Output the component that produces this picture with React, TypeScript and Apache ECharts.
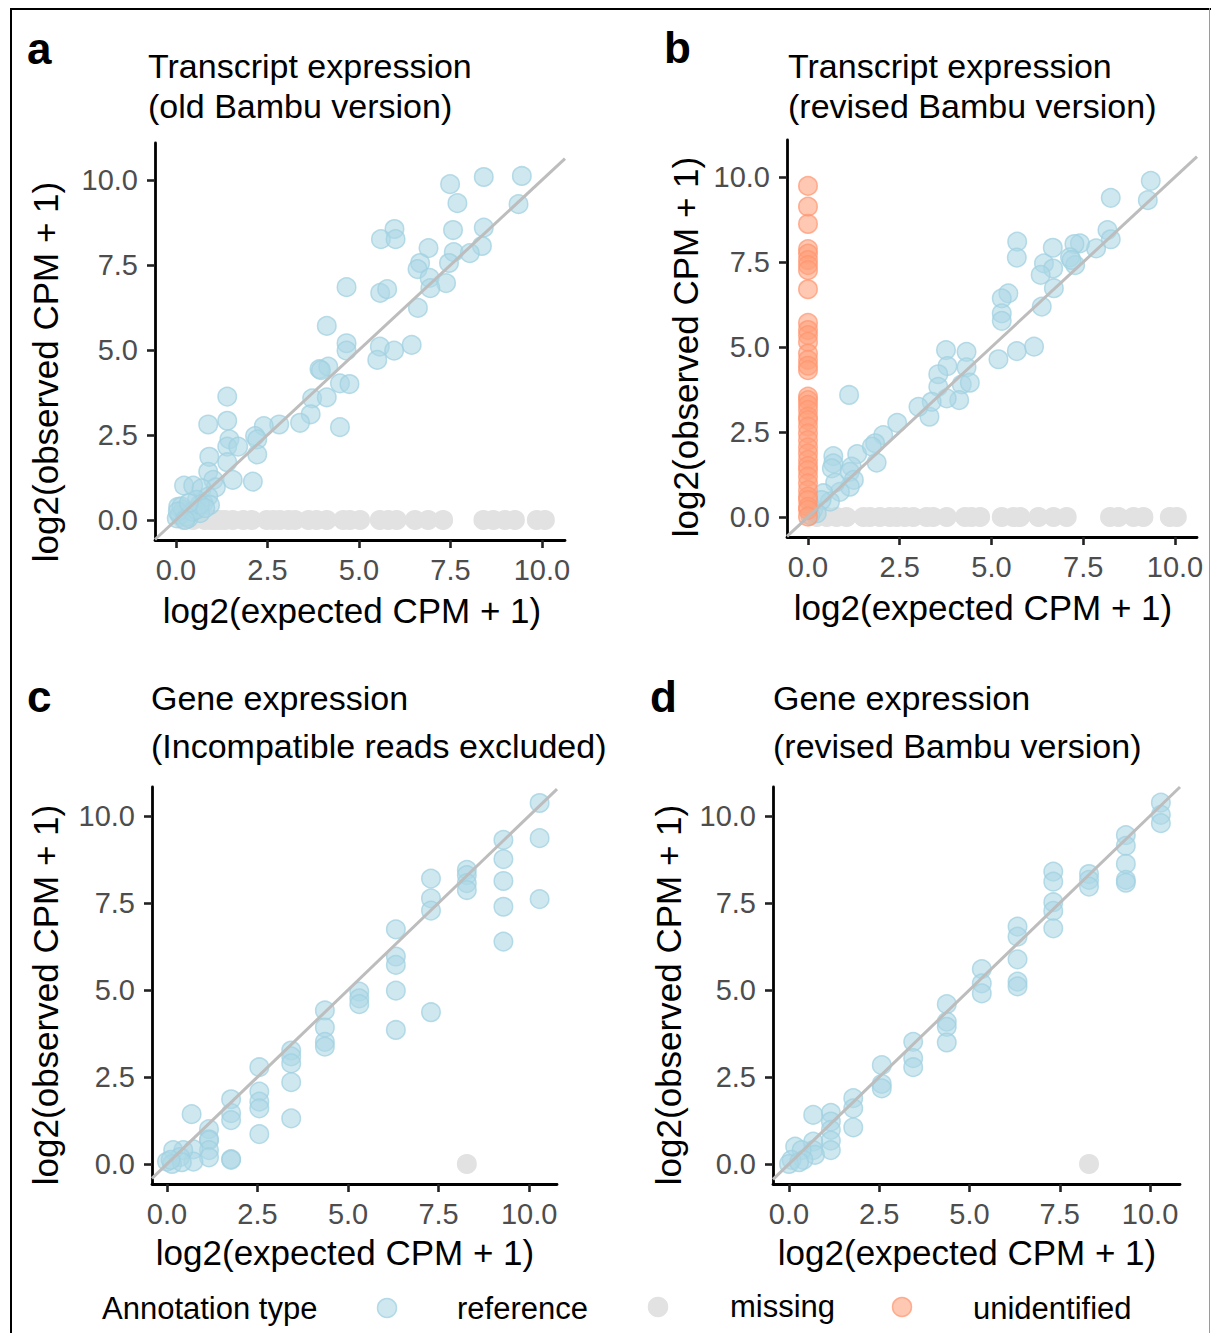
import React, { useEffect, useRef } from "react";
import * as echarts from "echarts";

type P = [number, number];

const tickValues = [0, 2.5, 5, 7.5, 10];

// Panel a: Transcript expression (old Bambu version)
const refA: P[] = [
  [7.49, 9.88], [8.41, 10.09], [9.45, 10.12], [7.69, 9.32], [9.36, 9.29], [5.97, 8.56], [5.6, 8.26], [6.0, 8.26],
  [7.57, 8.53], [8.41, 8.6], [6.9, 8.0], [8.36, 8.06], [7.59, 7.88], [8.03, 7.85], [6.67, 7.56], [7.46, 7.56],
  [6.6, 7.38], [6.93, 7.12], [7.38, 6.97], [6.95, 6.82], [4.66, 6.85], [5.58, 6.68], [5.77, 6.79], [6.61, 6.24],
  [4.12, 5.71], [4.66, 5.2], [4.66, 4.98], [5.57, 5.1], [5.96, 4.98], [6.44, 5.15], [5.5, 4.71], [3.92, 4.44],
  [4.16, 4.51], [3.96, 4.41], [4.48, 4.02], [4.74, 4.0], [3.72, 3.58], [4.12, 3.61], [3.68, 3.11], [3.39, 2.86],
  [2.82, 2.81], [2.4, 2.76], [4.48, 2.73], [1.4, 3.63], [1.4, 2.92], [0.88, 2.81], [2.16, 2.47], [2.22, 2.37],
  [1.46, 2.37], [1.4, 2.16], [1.7, 2.16], [2.22, 1.93], [0.91, 1.86], [1.4, 1.7], [0.88, 1.42], [1.55, 1.18],
  [2.1, 1.13], [1.02, 1.18], [1.09, 0.96], [0.22, 1.01], [0.47, 1.01], [0.7, 0.93], [0.88, 0.69], [0.06, 0.39],
  [0.57, 0.59], [0.75, 0.49], [0.93, 0.44], [0.66, 0.2], [0.34, 0.05], [0.02, 0.05], [0.1, 0.15], [0.2, 0.3],
  [0.3, 0.1], [0.15, 0.4], [0.45, 0.25], [0.55, 0.3], [0.65, 0.45], [0.8, 0.35], [0.05, 0.25], [0.35, 0.5],
  [0.25, 0.0],
];
const missingXA = [
  0.2, 0.47, 0.79, 0.95, 1.07, 1.2, 1.34, 1.55, 1.84, 2.07, 2.48, 2.66, 2.84, 3.07, 3.25, 3.62, 3.84, 4.12, 4.57,
  4.75, 5.03, 5.57, 5.8, 6.03, 6.53, 6.89, 7.3, 8.4, 8.67, 8.99, 9.26, 9.86, 10.08,
];

// Panel b: Transcript expression (revised Bambu version)
const refB: P[] = [
  [9.34, 9.89], [9.26, 9.32], [8.25, 9.39], [8.16, 8.44], [8.25, 8.17], [7.85, 7.9], [7.41, 8.05], [7.26, 8.03],
  [7.14, 7.64], [7.28, 7.41], [7.18, 7.56], [6.67, 7.92], [6.43, 7.46], [6.68, 7.31], [6.34, 7.12], [6.7, 6.73],
  [5.7, 8.1], [5.69, 7.63], [6.37, 6.19], [5.46, 6.58], [5.28, 6.43], [5.28, 5.99], [5.28, 5.77], [5.69, 4.88],
  [6.16, 5.01], [5.19, 4.64], [3.76, 4.91], [4.32, 4.86], [3.8, 4.44], [4.32, 4.4], [3.55, 4.2], [3.55, 3.83],
  [4.19, 3.9], [4.41, 3.95], [1.12, 3.59], [4.12, 3.44], [3.78, 3.49], [3.31, 2.95], [3.37, 3.39], [3.01, 3.24],
  [2.43, 2.77], [2.05, 2.41], [1.83, 2.17], [1.87, 1.6], [1.34, 1.85], [1.74, 2.07], [0.69, 1.79], [0.69, 1.58],
  [0.65, 1.43], [1.19, 1.48], [1.14, 1.33], [1.25, 1.09], [1.14, 0.89], [0.87, 0.74], [0.74, 1.01], [0.42, 0.7],
  [0.6, 0.45], [0.37, 0.5], [0.14, 0.21], [0.24, 0.11], [0.06, 0.05],
];
const missingXB = [
  0.24, 0.51, 0.78, 1.05, 1.51, 1.69, 1.96, 2.23, 2.42, 2.64, 2.87, 3.23, 3.41, 3.78, 4.28, 4.46, 4.69, 5.28, 5.6,
  5.78, 6.28, 6.69, 7.05, 8.23, 8.46, 8.87, 9.14, 9.86, 10.05,
];
const unidentifiedYB = [
  9.74, 9.13, 8.62, 7.88, 7.75, 7.56, 7.41, 7.26, 6.7, 5.71, 5.5, 5.35, 5.15, 4.81, 4.62, 4.45, 4.32, 3.54, 3.44,
  3.3, 3.15, 2.95, 2.85, 2.66, 2.46, 2.26, 2.05, 1.87, 1.68, 1.5, 1.38, 1.19, 0.99, 0.79, 0.6, 0.5, 0.3, 0.21, 0.01,
];

// Panel c: Gene expression (Incompatible reads excluded)
const refC: P[] = [
  [10.29, 10.37], [10.29, 9.36], [10.29, 7.61], [9.29, 9.31], [9.29, 8.76], [9.29, 8.13], [9.29, 7.39], [9.29, 6.39],
  [8.28, 8.45], [8.28, 8.3], [8.28, 8.07], [8.28, 7.87], [7.29, 8.2], [7.29, 7.63], [7.29, 7.28], [7.29, 4.36],
  [6.32, 6.74], [6.32, 5.96], [6.32, 5.72], [6.32, 4.98], [6.32, 3.85], [5.31, 4.95], [5.31, 4.76], [5.31, 4.59],
  [4.36, 4.41], [4.36, 3.92], [4.36, 3.51], [4.36, 3.37], [3.43, 3.26], [3.43, 3.09], [3.43, 2.89], [3.43, 2.35],
  [3.43, 1.31], [2.55, 2.78], [2.55, 2.08], [2.55, 1.79], [2.55, 1.6], [2.55, 0.86], [1.77, 1.86], [1.77, 1.46],
  [1.77, 1.26], [1.77, 0.14], [1.77, 0.12], [0.68, 1.43], [1.16, 1.0], [1.16, 0.71], [1.16, 0.68], [1.16, 0.4],
  [1.16, 0.19], [0.73, 0.42], [0.73, 0.07], [0.45, 0.4], [0.17, 0.4], [0.36, 0.2], [0.0, 0.07], [0.14, 0.0],
  [0.41, 0.05], [0.1, 0.12],
];
const missingC: P[] = [[8.28, 0]];

// Panel d: Gene expression (revised Bambu version)
const refD: P[] = [
  [10.3, 10.38], [10.3, 10.03], [10.3, 9.79], [9.33, 9.45], [9.33, 9.14], [9.33, 8.62], [9.33, 8.16], [9.33, 8.08],
  [8.31, 8.33], [8.31, 8.16], [8.31, 7.97], [7.32, 8.4], [7.32, 8.11], [7.32, 7.52], [7.32, 7.27], [7.32, 6.77],
  [6.33, 6.82], [6.33, 6.53], [6.33, 5.88], [6.33, 5.24], [6.33, 5.1], [5.34, 5.6], [5.34, 5.19], [5.34, 4.9],
  [4.37, 4.59], [4.37, 4.09], [4.37, 3.94], [4.37, 3.49], [3.44, 3.51], [3.44, 3.04], [3.44, 2.78], [2.57, 2.84],
  [2.57, 2.3], [2.57, 2.17], [1.78, 1.89], [1.78, 1.6], [1.78, 1.05], [1.16, 1.47], [1.16, 1.22], [1.16, 0.98],
  [1.16, 0.67], [1.16, 0.4], [0.67, 1.41], [0.67, 0.64], [0.67, 0.4], [0.72, 0.26], [0.17, 0.5], [0.35, 0.4],
  [0.4, 0.12], [0.07, 0.12], [0.0, 0.0], [0.28, 0.05],
];
const missingD: P[] = [[8.31, 0]];

const FONT = "'Liberation Sans', Arial, Helvetica, sans-serif";
const REF_FILL = "rgba(173,216,230,0.58)";
const REF_EDGE = "rgba(160,208,224,0.75)";
const MISS_COLOR = "#e2e2e2";
const UNID_FILL = "rgba(255,160,122,0.58)";
const UNID_EDGE = "rgba(255,150,112,0.72)";

interface PanelLayout {
  left: number; top: number; width: number; height: number;
  xMin: number; xMax: number; yMin: number; yMax: number;
}

const panels: PanelLayout[] = [
  { left: 155, top: 143, width: 410, height: 397, xMin: -0.574, xMax: 10.63, yMin: -0.588, yMax: 11.09 },
  { left: 787, top: 140, width: 410, height: 397, xMin: -0.572, xMax: 10.6, yMin: -0.588, yMax: 11.09 },
  { left: 152, top: 787, width: 405, height: 397, xMin: -0.414, xMax: 10.77, yMin: -0.575, yMax: 10.83 },
  { left: 773, top: 787, width: 407, height: 397, xMin: -0.443, xMax: 10.83, yMin: -0.575, yMax: 10.83 },
];

function buildOption() {
  const fmt = (v: number) => v.toFixed(1);
  const grid = panels.map((p) => ({ left: p.left, top: p.top, width: p.width, height: p.height, containLabel: false }));
  const axisCommon = {
    type: "value" as const,
    splitLine: { show: false },
    axisLine: { show: true, onZero: false, lineStyle: { color: "#000", width: 2.8 } },
    axisTick: { show: true, customValues: tickValues, length: 8, lineStyle: { color: "#222", width: 2.6 } },
    axisLabel: { customValues: tickValues, formatter: fmt, color: "#4d4d4d", fontSize: 29, fontFamily: FONT, margin: 16 },
  };
  const xAxis = panels.map((p, i) => ({
    ...axisCommon,
    axisLabel: { ...axisCommon.axisLabel, margin: 15 },
    gridIndex: i, min: p.xMin, max: p.xMax,
  }));
  const yAxis = panels.map((p, i) => ({
    ...axisCommon,
    axisLabel: { ...axisCommon.axisLabel, margin: 17 },
    gridIndex: i, min: p.yMin, max: p.yMax,
  }));

  const scatter = (i: number, data: P[], fill: string, edge: string, name = "") => ({
    type: "scatter",
    name,
    xAxisIndex: i,
    yAxisIndex: i,
    data,
    symbolSize: 18.5,
    silent: true,
    itemStyle: { color: fill, borderColor: edge, borderWidth: 1.5, opacity: 1 },
  });
  const diag = (i: number) => {
    const p = panels[i];
    return {
      type: "line",
      xAxisIndex: i,
      yAxisIndex: i,
      data: [[p.xMin, p.xMin], [p.xMax, p.xMax]],
      showSymbol: false,
      symbol: "none",
      silent: true,
      clip: true,
      z: 5,
      lineStyle: { color: "#bdbdbd", width: 3 },
    };
  };

  const series: any[] = [
    scatter(0, missingXA.map((x) => [x, 0] as P), MISS_COLOR, MISS_COLOR, "missing"),
    scatter(0, refA, REF_FILL, REF_EDGE, "reference"),
    diag(0),
    scatter(1, missingXB.map((x) => [x, 0] as P), MISS_COLOR, MISS_COLOR, "missing"),
    scatter(1, refB, REF_FILL, REF_EDGE, "reference"),
    scatter(1, unidentifiedYB.map((y) => [0, y] as P), UNID_FILL, UNID_EDGE, "unidentified"),
    diag(1),
    scatter(2, missingC, MISS_COLOR, MISS_COLOR, "missing"),
    scatter(2, refC, REF_FILL, REF_EDGE, "reference"),
    diag(2),
    scatter(3, missingD, MISS_COLOR, MISS_COLOR, "missing"),
    scatter(3, refD, REF_FILL, REF_EDGE, "reference"),
    diag(3),
  ];

  const txt = (text: string, x: number, y: number, fontSize: number, extra: any = {}, el: any = {}) => ({
    type: "text",
    x,
    y,
    ...el,
    style: { text, fontSize, fontFamily: FONT, fill: "#000", verticalAlign: "middle", align: "left", ...extra },
  });

  const graphic: any[] = [
    { type: "line", shape: { x1: 10, y1: 9, x2: 1211, y2: 9 }, style: { stroke: "#000", lineWidth: 2 } },
    { type: "line", shape: { x1: 11, y1: 8, x2: 11, y2: 1333 }, style: { stroke: "#000", lineWidth: 2 } },
    { type: "line", shape: { x1: 1209.5, y1: 8, x2: 1209.5, y2: 1333 }, style: { stroke: "#9a9a9a", lineWidth: 1 } },
    // panel letters
    txt("a", 27, 48, 44, { fontWeight: "bold" }),
    txt("b", 664, 47, 44, { fontWeight: "bold" }),
    txt("c", 27, 696, 44, { fontWeight: "bold" }),
    txt("d", 650, 696, 44, { fontWeight: "bold" }),
    // panel titles
    txt("Transcript expression", 148, 66, 34),
    txt("(old Bambu version)", 148, 106, 34),
    txt("Transcript expression", 788, 66, 34),
    txt("(revised Bambu version)", 788, 106, 34),
    txt("Gene expression", 151, 698, 34),
    txt("(Incompatible reads excluded)", 151, 746, 34),
    txt("Gene expression", 773, 698, 34),
    txt("(revised Bambu version)", 773, 746, 34),
    // x axis titles
    txt("log2(expected CPM + 1)", 352, 610, 35, { align: "center" }),
    txt("log2(expected CPM + 1)", 983, 607, 35, { align: "center" }),
    txt("log2(expected CPM + 1)", 345, 1252, 35, { align: "center" }),
    txt("log2(expected CPM + 1)", 967, 1252, 35, { align: "center" }),
    // y axis titles
    txt("log2(observed CPM + 1)", 45, 372, 35, { align: "center" }, { rotation: Math.PI / 2 }),
    txt("log2(observed CPM + 1)", 685, 347, 35, { align: "center" }, { rotation: Math.PI / 2 }),
    txt("log2(observed CPM + 1)", 45, 995, 35, { align: "center" }, { rotation: Math.PI / 2 }),
    txt("log2(observed CPM + 1)", 668, 995, 35, { align: "center" }, { rotation: Math.PI / 2 }),
    // legend
    txt("Annotation type", 102, 1308, 31),
    { type: "circle", shape: { cx: 387, cy: 1308, r: 9.5 }, style: { fill: REF_FILL, stroke: REF_EDGE, lineWidth: 1.5 } },
    txt("reference", 457, 1308, 31),
    { type: "circle", shape: { cx: 658, cy: 1307, r: 9.5 }, style: { fill: MISS_COLOR, stroke: MISS_COLOR, lineWidth: 1.5 } },
    txt("missing", 730, 1306, 31),
    { type: "circle", shape: { cx: 902, cy: 1307, r: 9.5 }, style: { fill: UNID_FILL, stroke: UNID_EDGE, lineWidth: 1.5 } },
    txt("unidentified", 973, 1308, 31),
  ];

  return {
    animation: false,
    backgroundColor: "#fff",
    textStyle: { fontFamily: FONT },
    grid,
    xAxis,
    yAxis,
    series,
    graphic,
  };
}

export default function App() {
  const ref = useRef<HTMLDivElement>(null);
  useEffect(() => {
    if (!ref.current) return;
    const chart = echarts.init(ref.current, null, { renderer: "svg" });
    chart.setOption(buildOption() as any);
    return () => chart.dispose();
  }, []);
  return <div ref={ref} style={{ position: "absolute", left: 0, top: 0, width: 1211, height: 1333 }} />;
}
